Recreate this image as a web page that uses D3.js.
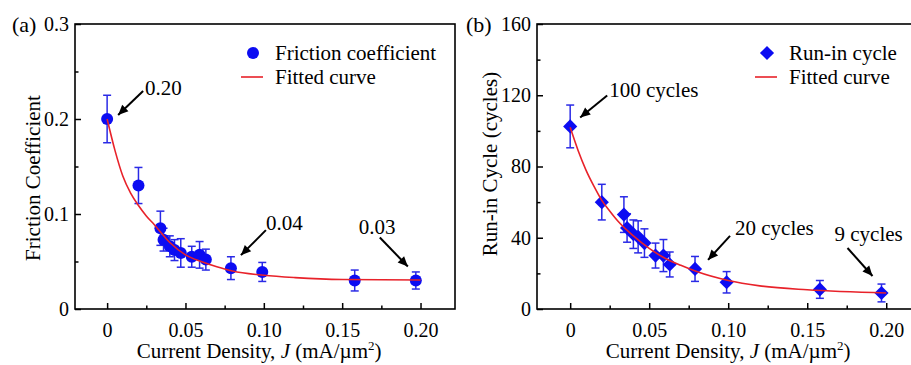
<!DOCTYPE html>
<html>
<head>
<meta charset="utf-8">
<script src="https://cdn.jsdelivr.net/npm/d3@7"></script>
<style>
    body { margin: 0; background: #fff; }
    svg { display: block; }
</style>
</head>
<body>
<div id="chart"></div>
<script>
// measured points (both panels use the same current densities)
const currentDensity = [0, 0.020, 0.034, 0.036, 0.040, 0.043, 0.047, 0.054, 0.059, 0.063, 0.079, 0.099, 0.158, 0.197];
const frictionCoef   = [0.200, 0.130, 0.085, 0.073, 0.066, 0.062, 0.059, 0.055, 0.057, 0.052, 0.043, 0.039, 0.030, 0.030];
const frictionErr    = [0.025, 0.019, 0.018, 0.012, 0.011, 0.011, 0.015, 0.011, 0.014, 0.011, 0.012, 0.010, 0.011, 0.009];
const runInCycle     = [102.5, 60, 53, 45.5, 42, 40.5, 37, 30, 30, 25, 22.5, 15, 11, 9];
const runInErr       = [12, 10, 10, 8, 8, 9, 8, 7, 9, 7, 7, 6, 5, 5];

// fitted curves
const fitDensity  = [0, 0.005, 0.01, 0.015, 0.02, 0.025, 0.03, 0.04, 0.05, 0.06, 0.07, 0.08, 0.10, 0.12, 0.15, 0.20];
const frictionFit = [0.200, 0.167, 0.140, 0.122, 0.109, 0.098, 0.089, 0.070, 0.057, 0.050, 0.0445, 0.040, 0.0355, 0.033, 0.031, 0.0305];
const runInFit    = [102, 89, 78, 69, 61, 55, 49.5, 41, 34, 28.5, 24.5, 21, 16, 13, 10.8, 9];

// ticks
const xTicks = [0, 0.05, 0.10, 0.15, 0.20];
const xTickLabels = ['0', '0.05', '0.10', '0.15', '0.20'];
const xMinor = [0.025, 0.075, 0.125, 0.175];
const frictionTicks = [0, 0.1, 0.2, 0.3];
const frictionTickLabels = ['0', '0.1', '0.2', '0.3'];
const frictionMinor = [0.05, 0.15, 0.25];
const runInTicks = [0, 40, 80, 120, 160];
const runInMinor = [20, 60, 100, 140];

// annotations
const frictionNotes = ['0.20', '0.04', '0.03'];
const frictionNoteIdx = [0, 10, 13];
const runInNotes = ['100 cycles', '20 cycles', '9 cycles'];
const runInNoteIdx = [0, 10, 13];

const font = '"Liberation Serif", "Times New Roman", "DejaVu Serif", serif';
const blue = '#0c0cf2';
const errBlue = '#2a2ae6';
const red = '#e8222a';

const svg = d3.select('#chart').append('svg')
    .attr('width', 911)
    .attr('height', 365)
    .attr('font-family', font);

svg.append('defs').append('marker')
    .attr('id', 'arrow')
    .attr('markerUnits', 'userSpaceOnUse')
    .attr('viewBox', '0 -5 10 10')
    .attr('refX', 10)
    .attr('refY', 0)
    .attr('markerWidth', 11)
    .attr('markerHeight', 10)
    .attr('orient', 'auto')
    .append('path')
    .attr('d', 'M0,-4.5L10,0L0,4.5Z')
    .attr('fill', 'black');

const panels = [
    {
        tag: '(a)', tagX: 12, left: 75, top: 24, width: 380, height: 285,
        xDomain: [-0.0205, 0.222], yDomain: [0, 0.3],
        values: frictionCoef, errors: frictionErr, fit: frictionFit,
        yTicks: frictionTicks, yTickLabels: frictionTickLabels, yMinor: frictionMinor,
        yTitle: 'Friction Coefficient', yTitleX: 40, yTitleY: 178, xTitleAt: 0.097,
        symbol: 'circle', legendX: 178,
        legendText: 'Friction coefficient',
        notes: frictionNotes, noteIdx: frictionNoteIdx,
        // per note: arrow tip, arrow tail, text start, relative to the point
        noteLayout: [
            {tip: [11, -4], tail: [36, -28], label: [38, -24]},
            {tip: [10, -13], tail: [35, -38], label: [35, -38]},
            {tip: [-8, -14], tail: [-36, -43], label: [-57, -47]}
        ]
    },
    {
        tag: '(b)', tagX: 466, left: 537, top: 24, width: 384, height: 285,
        xDomain: [-0.021, 0.222], yDomain: [0, 160],
        values: runInCycle, errors: runInErr, fit: runInFit,
        yTicks: runInTicks, yTickLabels: runInTicks.map(String), yMinor: runInMinor,
        yTitle: 'Run-in Cycle (cycles)', yTitleX: 497, yTitleY: 164, xTitleAt: 0.1,
        symbol: 'diamond', legendX: 230,
        legendText: 'Run-in cycle',
        notes: runInNotes, noteIdx: runInNoteIdx,
        noteLayout: [
            {tip: [10, -9], tail: [37, -31], label: [39, -29]},
            {tip: [13, -9], tail: [35, -33], label: [40, -34]},
            {tip: [-9, -17], tail: [-34, -45], label: [-47, -52]}
        ]
    }
];

panels.forEach(drawPanel);

function drawPanel(p) {
    const x = d3.scaleLinear().domain(p.xDomain).range([p.left, p.left + p.width]);
    const y = d3.scaleLinear().domain(p.yDomain).range([p.top + p.height, p.top]);
    const g = svg.append('g');
    const bottom = p.top + p.height;

    // ticks, pointing inwards
    g.append('g')
        .attr('transform', `translate(0,${bottom})`)
        .call(d3.axisBottom(x).tickValues(xMinor).tickSize(-3.5).tickFormat(''))
        .call(a => a.select('.domain').remove());
    g.append('g')
        .attr('transform', `translate(0,${bottom})`)
        .call(d3.axisBottom(x).tickValues(xTicks).tickSize(-6).tickPadding(14)
            .tickFormat((d, i) => xTickLabels[i]))
        .call(a => a.select('.domain').remove());
    g.append('g')
        .attr('transform', `translate(${p.left},0)`)
        .call(d3.axisLeft(y).tickValues(p.yMinor).tickSize(-3.5).tickFormat(''))
        .call(a => a.select('.domain').remove());
    g.append('g')
        .attr('transform', `translate(${p.left},0)`)
        .call(d3.axisLeft(y).tickValues(p.yTicks).tickSize(-6).tickPadding(6)
            .tickFormat((d, i) => p.yTickLabels[i]))
        .call(a => a.select('.domain').remove());
    g.selectAll('g')
        .attr('font-family', font)
        .attr('font-size', 20);
    g.selectAll('.tick line').attr('stroke-width', 1.5);
    g.selectAll('.tick text').attr('fill', 'black');

    // frame
    g.append('rect')
        .attr('x', p.left)
        .attr('y', p.top)
        .attr('width', p.width)
        .attr('height', p.height)
        .attr('fill', 'none')
        .attr('stroke', 'black')
        .attr('stroke-width', 1.6);

    // titles
    g.append('text')
        .attr('x', p.tagX)
        .attr('y', p.top + 8)
        .attr('font-size', 22)
        .text(p.tag);
    g.append('text')
        .attr('x', x(p.xTitleAt))
        .attr('y', bottom + 49)
        .attr('text-anchor', 'middle')
        .attr('font-size', 21)
        .call(t => {
            t.append('tspan').text('Current Density, ');
            t.append('tspan').attr('font-style', 'italic').text('J');
            t.append('tspan').text(' (mA/\u00b5m');
            t.append('tspan').attr('dy', -8).attr('font-size', 13).text('2');
            t.append('tspan').attr('dy', 8).text(')');
        });
    g.append('text')
        .attr('transform', `translate(${p.yTitleX},${p.yTitleY}) rotate(-90)`)
        .attr('text-anchor', 'middle')
        .attr('font-size', 21)
        .text(p.yTitle);

    const points = currentDensity.map((d, i) => ({x: d, y: p.values[i], e: p.errors[i]}));

    // error bars
    const bars = g.append('g')
        .attr('stroke', errBlue)
        .attr('stroke-width', 1.5)
        .selectAll('g')
        .data(points)
        .join('g');
    bars.append('line')
        .attr('x1', d => x(d.x)).attr('x2', d => x(d.x))
        .attr('y1', d => y(d.y - d.e)).attr('y2', d => y(d.y + d.e));
    bars.append('line')
        .attr('x1', d => x(d.x) - 4).attr('x2', d => x(d.x) + 4)
        .attr('y1', d => y(d.y + d.e)).attr('y2', d => y(d.y + d.e));
    bars.append('line')
        .attr('x1', d => x(d.x) - 4).attr('x2', d => x(d.x) + 4)
        .attr('y1', d => y(d.y - d.e)).attr('y2', d => y(d.y - d.e));

    // markers
    const marker = p.symbol === 'circle'
        ? d3.symbol(d3.symbolCircle, Math.PI * 6 * 6)
        : d3.symbol(d3.symbolSquare, 100);
    const rot = p.symbol === 'circle' ? 0 : 45;
    g.append('g')
        .selectAll('path')
        .data(points)
        .join('path')
        .attr('d', marker)
        .attr('transform', d => `translate(${x(d.x)},${y(d.y)}) rotate(${rot})`)
        .attr('fill', blue);

    // fitted curve
    g.append('path')
        .datum(fitDensity.map((d, i) => [d, p.fit[i]]))
        .attr('fill', 'none')
        .attr('stroke', red)
        .attr('stroke-width', 1.6)
        .attr('d', d3.line()
            .x(d => x(d[0]))
            .y(d => y(d[1]))
            .curve(d3.curveMonotoneX));

    // annotations
    p.notes.forEach(function(note, k) {
        const pt = points[p.noteIdx[k]];
        const px = x(pt.x), py = y(pt.y);
        const lay = p.noteLayout[k];
        g.append('line')
            .attr('x1', px + lay.tail[0]).attr('y1', py + lay.tail[1])
            .attr('x2', px + lay.tip[0]).attr('y2', py + lay.tip[1])
            .attr('stroke', 'black')
            .attr('stroke-width', 2)
            .attr('marker-end', 'url(#arrow)');
        g.append('text')
            .attr('x', px + lay.label[0])
            .attr('y', py + lay.label[1])
            .attr('font-size', 21)
            .text(note);
    });

    // legend
    const lx = p.left + p.legendX;
    g.append('path')
        .attr('d', marker)
        .attr('transform', `translate(${lx},${p.top + 29}) rotate(${rot})`)
        .attr('fill', blue);
    g.append('text')
        .attr('x', lx + 22)
        .attr('y', p.top + 36)
        .attr('font-size', 21)
        .text(p.legendText);
    g.append('line')
        .attr('x1', lx - 12).attr('x2', lx + 10)
        .attr('y1', p.top + 53).attr('y2', p.top + 53)
        .attr('stroke', red)
        .attr('stroke-width', 1.6);
    g.append('text')
        .attr('x', lx + 22)
        .attr('y', p.top + 60)
        .attr('font-size', 21)
        .text('Fitted curve');
}
</script>
</body>
</html>
